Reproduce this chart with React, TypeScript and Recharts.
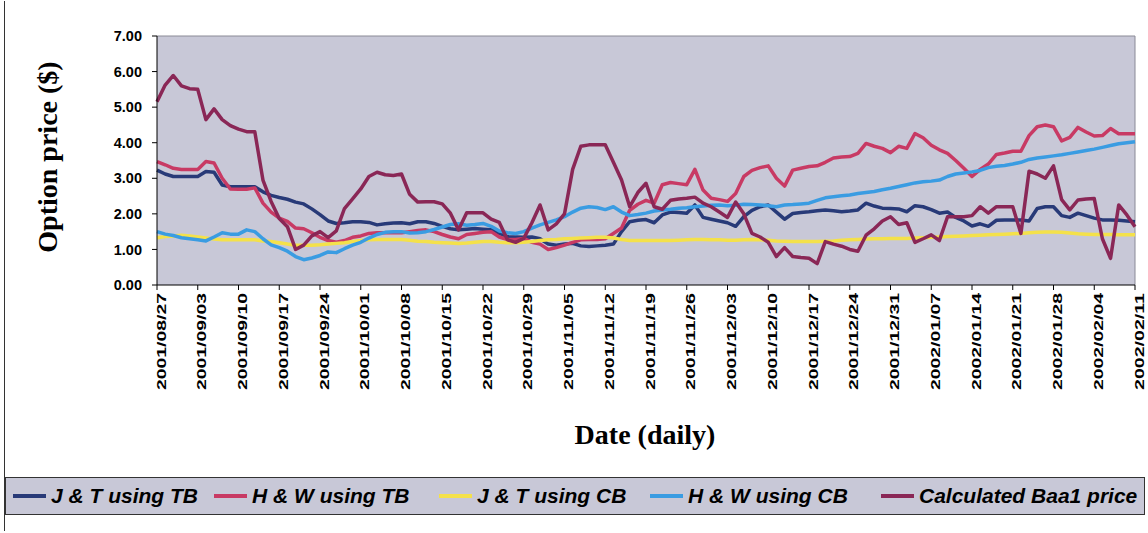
import { LineChart, Line, XAxis, YAxis, CartesianGrid, ReferenceLine } from "recharts";

// weekly tick labels (every 5th trading day)
const weekTicks = [
  "2001/08/27", "2001/09/03", "2001/09/10", "2001/09/17", "2001/09/24",
  "2001/10/01", "2001/10/08", "2001/10/15", "2001/10/22", "2001/10/29",
  "2001/11/05", "2001/11/12", "2001/11/19", "2001/11/26", "2001/12/03",
  "2001/12/10", "2001/12/17", "2001/12/24", "2001/12/31", "2002/01/07",
  "2002/01/14", "2002/01/21", "2002/01/28", "2002/02/04", "2002/02/11",
];

const yTicks = [0, 1, 2, 3, 4, 5, 6, 7];

// J & T using TB
const jtTB = [
  3.23, 3.12, 3.05, 3.05, 3.05, 3.05, 3.19, 3.17, 2.81, 2.76, 2.76, 2.76, 2.76, 2.62, 2.52, 2.46, 2.41, 2.33, 2.28, 2.14, 1.98, 1.8, 1.73, 1.75, 1.78, 1.78, 1.76, 1.69, 1.72, 1.74,
  1.75, 1.72, 1.78, 1.78, 1.73, 1.65, 1.58, 1.55, 1.57, 1.59, 1.57, 1.55, 1.45, 1.36, 1.35, 1.34, 1.35, 1.3, 1.15, 1.12, 1.15, 1.17, 1.1, 1.08, 1.1, 1.12, 1.15, 1.5,
  1.78, 1.82, 1.84, 1.75, 1.97, 2.05, 2.04, 2.02, 2.25, 1.9, 1.85, 1.8, 1.75, 1.65, 1.92, 2.1, 2.2, 2.25, 2.05, 1.85, 2.01, 2.04, 2.06, 2.09, 2.11, 2.09, 2.06, 2.08, 2.11, 2.3,
  2.22, 2.16, 2.15, 2.14, 2.06, 2.23, 2.2, 2.12, 2.02, 2.05, 1.9, 1.8, 1.66, 1.72, 1.65, 1.82, 1.83, 1.83, 1.83, 1.8, 2.15, 2.2, 2.2, 1.95, 1.9, 2.02, 1.95, 1.88, 1.83, 1.83, 1.82, 1.8, 1.78,
];

// H & W using TB
const hwTB = [
  3.47, 3.38, 3.28, 3.25, 3.25, 3.25, 3.47, 3.43, 3.0, 2.7, 2.69, 2.69, 2.73, 2.3, 2.05, 1.88, 1.79, 1.6, 1.58, 1.47, 1.34, 1.25, 1.2, 1.25, 1.34, 1.38, 1.45, 1.47, 1.47, 1.47,
  1.47, 1.5, 1.53, 1.55, 1.5, 1.42, 1.35, 1.3, 1.42, 1.45, 1.48, 1.5, 1.35, 1.28, 1.28, 1.31, 1.2, 1.15, 1.0, 1.05, 1.12, 1.2, 1.27, 1.28, 1.28, 1.3, 1.45, 1.6,
  2.1, 2.27, 2.38, 2.3, 2.82, 2.88, 2.85, 2.82, 3.25, 2.67, 2.44, 2.4, 2.35, 2.57, 3.05, 3.22, 3.3, 3.35, 3.0, 2.78, 3.23, 3.28, 3.33, 3.35, 3.45, 3.57, 3.6, 3.61, 3.7, 3.98,
  3.9, 3.84, 3.72, 3.9, 3.84, 4.26, 4.14, 3.93, 3.8, 3.7, 3.5, 3.28, 3.05, 3.25, 3.4, 3.67, 3.71, 3.76, 3.76, 4.2, 4.45, 4.5, 4.45, 4.05, 4.15, 4.43, 4.3, 4.19, 4.2, 4.4, 4.25, 4.25, 4.25,
];

// J & T using CB
const jtCB = [
  1.33, 1.36, 1.38, 1.4, 1.38, 1.35, 1.32, 1.29, 1.27, 1.27, 1.27, 1.27, 1.27, 1.24, 1.22, 1.19, 1.15, 1.12, 1.12, 1.12, 1.13, 1.15, 1.17, 1.19, 1.22, 1.25, 1.27, 1.28, 1.28, 1.28,
  1.28, 1.26, 1.23, 1.22, 1.2, 1.19, 1.18, 1.17, 1.18, 1.2, 1.22, 1.22, 1.2, 1.19, 1.19, 1.2, 1.22, 1.25, 1.27, 1.28, 1.3, 1.31, 1.32, 1.33, 1.34, 1.34, 1.32, 1.28,
  1.25, 1.25, 1.25, 1.25, 1.25, 1.25, 1.26, 1.27, 1.28, 1.28, 1.27, 1.27, 1.26, 1.26, 1.27, 1.28, 1.27, 1.26, 1.24, 1.23, 1.22, 1.22, 1.22, 1.22, 1.23, 1.24, 1.26, 1.27, 1.28, 1.29,
  1.3, 1.3, 1.31, 1.31, 1.31, 1.32, 1.33, 1.34, 1.35, 1.36, 1.37, 1.38, 1.39, 1.4, 1.41, 1.42, 1.43, 1.44, 1.45, 1.47, 1.48, 1.49, 1.49, 1.48, 1.46, 1.44, 1.43, 1.42, 1.42, 1.42, 1.41, 1.41, 1.41,
];

// H & W using CB
const hwCB = [
  1.5, 1.43, 1.39, 1.33, 1.3, 1.27, 1.24, 1.35, 1.47, 1.43, 1.43, 1.55, 1.5, 1.3, 1.13, 1.05, 0.95, 0.8, 0.71, 0.76, 0.83, 0.93, 0.91, 1.02, 1.12, 1.2, 1.32, 1.42, 1.48, 1.5,
  1.5, 1.46, 1.47, 1.5, 1.56, 1.63, 1.7, 1.72, 1.68, 1.7, 1.73, 1.65, 1.52, 1.47, 1.45, 1.5, 1.6, 1.69, 1.76, 1.83, 1.92, 2.05, 2.16, 2.2, 2.18, 2.12, 2.2, 2.05,
  1.95, 1.98, 2.02, 2.08, 2.11, 2.13, 2.16, 2.17, 2.2, 2.22, 2.24, 2.25, 2.23, 2.24, 2.27, 2.26, 2.25, 2.23, 2.2, 2.25, 2.26, 2.28, 2.3, 2.38, 2.45, 2.48, 2.51, 2.53, 2.57, 2.6,
  2.63, 2.68, 2.72, 2.77, 2.82, 2.87, 2.9, 2.92, 2.95, 3.05, 3.12, 3.15, 3.18, 3.22, 3.3, 3.34, 3.36, 3.4, 3.45, 3.53, 3.57, 3.6, 3.63, 3.66, 3.7, 3.74, 3.78, 3.82, 3.87, 3.92, 3.97, 4.0, 4.03,
];

// Calculated Baa1 price
const baa1 = [
  5.15, 5.62, 5.89, 5.6, 5.52, 5.5, 4.65, 4.95, 4.65, 4.48, 4.38, 4.31, 4.31, 2.95, 2.35, 1.87, 1.64, 1.0, 1.12, 1.38, 1.5, 1.33, 1.52, 2.15, 2.42, 2.7, 3.05, 3.17, 3.1, 3.08,
  3.12, 2.55, 2.33, 2.34, 2.34, 2.28, 2.02, 1.55, 2.03, 2.03, 2.03, 1.85, 1.76, 1.27, 1.2, 1.31, 1.75, 2.25, 1.55, 1.72, 2.0, 3.25, 3.9, 3.94, 3.94, 3.94, 3.45, 2.95,
  2.2, 2.6, 2.86, 2.2, 2.13, 2.38, 2.42, 2.44, 2.47, 2.3, 2.2, 2.05, 1.9, 2.33, 2.0, 1.45, 1.35, 1.2, 0.8, 1.05, 0.8, 0.77, 0.75, 0.6, 1.22, 1.15, 1.09, 1.0, 0.95, 1.4,
  1.58, 1.8, 1.92, 1.7, 1.75, 1.2, 1.3, 1.41, 1.25, 1.92, 1.92, 1.92, 1.95, 2.2, 2.02, 2.2, 2.2, 2.2, 1.45, 3.2, 3.12, 3.0, 3.35, 2.4, 2.11, 2.39, 2.42, 2.43, 1.3, 0.75, 2.25, 1.97, 1.64,
];

const series = [
  { key: "jtTB", name: "J & T using TB", color: "#283a78", values: jtTB, swatch: 12 },
  { key: "hwTB", name: "H & W using TB", color: "#c83a64", values: hwTB, swatch: 213 },
  { key: "jtCB", name: "J & T using CB", color: "#f4e14a", values: jtCB, swatch: 438 },
  { key: "hwCB", name: "H & W using CB", color: "#3a9ce2", values: hwCB, swatch: 649 },
  { key: "baa1", name: "Calculated Baa1 price", color: "#8a2756", values: baa1, swatch: 880 },
];

const rows = jtTB.map((_, i) => {
  const row: Record<string, number> = { day: i };
  series.forEach((s) => {
    row[s.key] = s.values[i];
  });
  return row;
});

const sans = "'Liberation Sans', Arial, sans-serif";
const serif = "'Liberation Serif', 'Times New Roman', serif";
const plotBg = "#c8c8d7";

function DateTick(props: any) {
  const { x, y, payload } = props;
  return (
    <g transform={`translate(${x + 4},${y})`}>
      <text
        transform="rotate(-90)"
        textAnchor="end"
        dy="0.36em"
        fontFamily={sans}
        fontWeight="bold"
        fontSize={13}
        textLength={97}
        lengthAdjust="spacingAndGlyphs"
        fill="#000"
      >
        {weekTicks[payload.value / 5]}
      </text>
    </g>
  );
}

export default function App() {
  return (
    <div
      style={{
        position: "absolute",
        left: 0,
        top: 0,
        width: 1148,
        height: 533,
        background: "#fff",
        overflow: "hidden",
      }}
    >
      <div
        style={{
          position: "absolute",
          left: 4,
          top: 1,
          width: 1141,
          height: 530,
          borderLeft: "1px solid #333",
          boxSizing: "border-box",
        }}
      />
      <LineChart
        width={1148}
        height={533}
        data={rows}
        margin={{ top: 36, right: 13, left: 97, bottom: 128 }}
      >
        <CartesianGrid horizontal={false} vertical={false} fill={plotBg} />
        <XAxis
          dataKey="day"
          type="category"
          interval={4}
          height={120}
          stroke="#000"
          tickSize={5}
          tickMargin={3}
          tick={<DateTick />}
        />
        <YAxis
          domain={[0, 7]}
          ticks={yTicks}
          width={60}
          stroke="#000"
          tickSize={5}
          tickMargin={10}
          tickFormatter={(v) => Number(v).toFixed(2)}
          tick={{ fontFamily: sans, fontWeight: "bold", fontSize: 14.5, fill: "#000" }}
        />
        <ReferenceLine y={7} stroke="#8a8a96" />
        <ReferenceLine x={120} stroke="#8a8a96" />
        {series.map((s) => (
          <Line
            key={s.key}
            type="linear"
            dataKey={s.key}
            name={s.name}
            stroke={s.color}
            strokeWidth={3.5}
            strokeLinejoin="round"
            dot={false}
            isAnimationActive={false}
          />
        ))}
      </LineChart>

      <div
        style={{
          position: "absolute",
          left: 48,
          top: 157,
          transform: "translate(-50%, -50%) rotate(-90deg)",
          fontFamily: serif,
          fontWeight: "bold",
          fontSize: 28,
          whiteSpace: "nowrap",
        }}
      >
        Option price ($)
      </div>
      <div
        style={{
          position: "absolute",
          left: 645,
          top: 435,
          transform: "translate(-50%, -50%)",
          fontFamily: serif,
          fontWeight: "bold",
          fontSize: 28,
          whiteSpace: "nowrap",
        }}
      >
        Date (daily)
      </div>

      <div
        style={{
          position: "absolute",
          left: 5,
          top: 477,
          width: 1140,
          height: 38,
          background: plotBg,
          border: "1px solid #333",
          boxSizing: "border-box",
        }}
      >
        {series.map((s) => (
          <div
            key={s.key}
            style={{
              position: "absolute",
              left: s.swatch - 5,
              top: 0,
              height: 36,
              display: "flex",
              alignItems: "center",
              whiteSpace: "nowrap",
            }}
          >
            <span
              style={{
                display: "inline-block",
                width: 33,
                height: 4,
                background: s.color,
                marginRight: 5,
              }}
            />
            <span
              style={{
                fontFamily: sans,
                fontWeight: "bold",
                fontStyle: "italic",
                fontSize: 21,
                color: "#000",
              }}
            >
              {s.name}
            </span>
          </div>
        ))}
      </div>
    </div>
  );
}
